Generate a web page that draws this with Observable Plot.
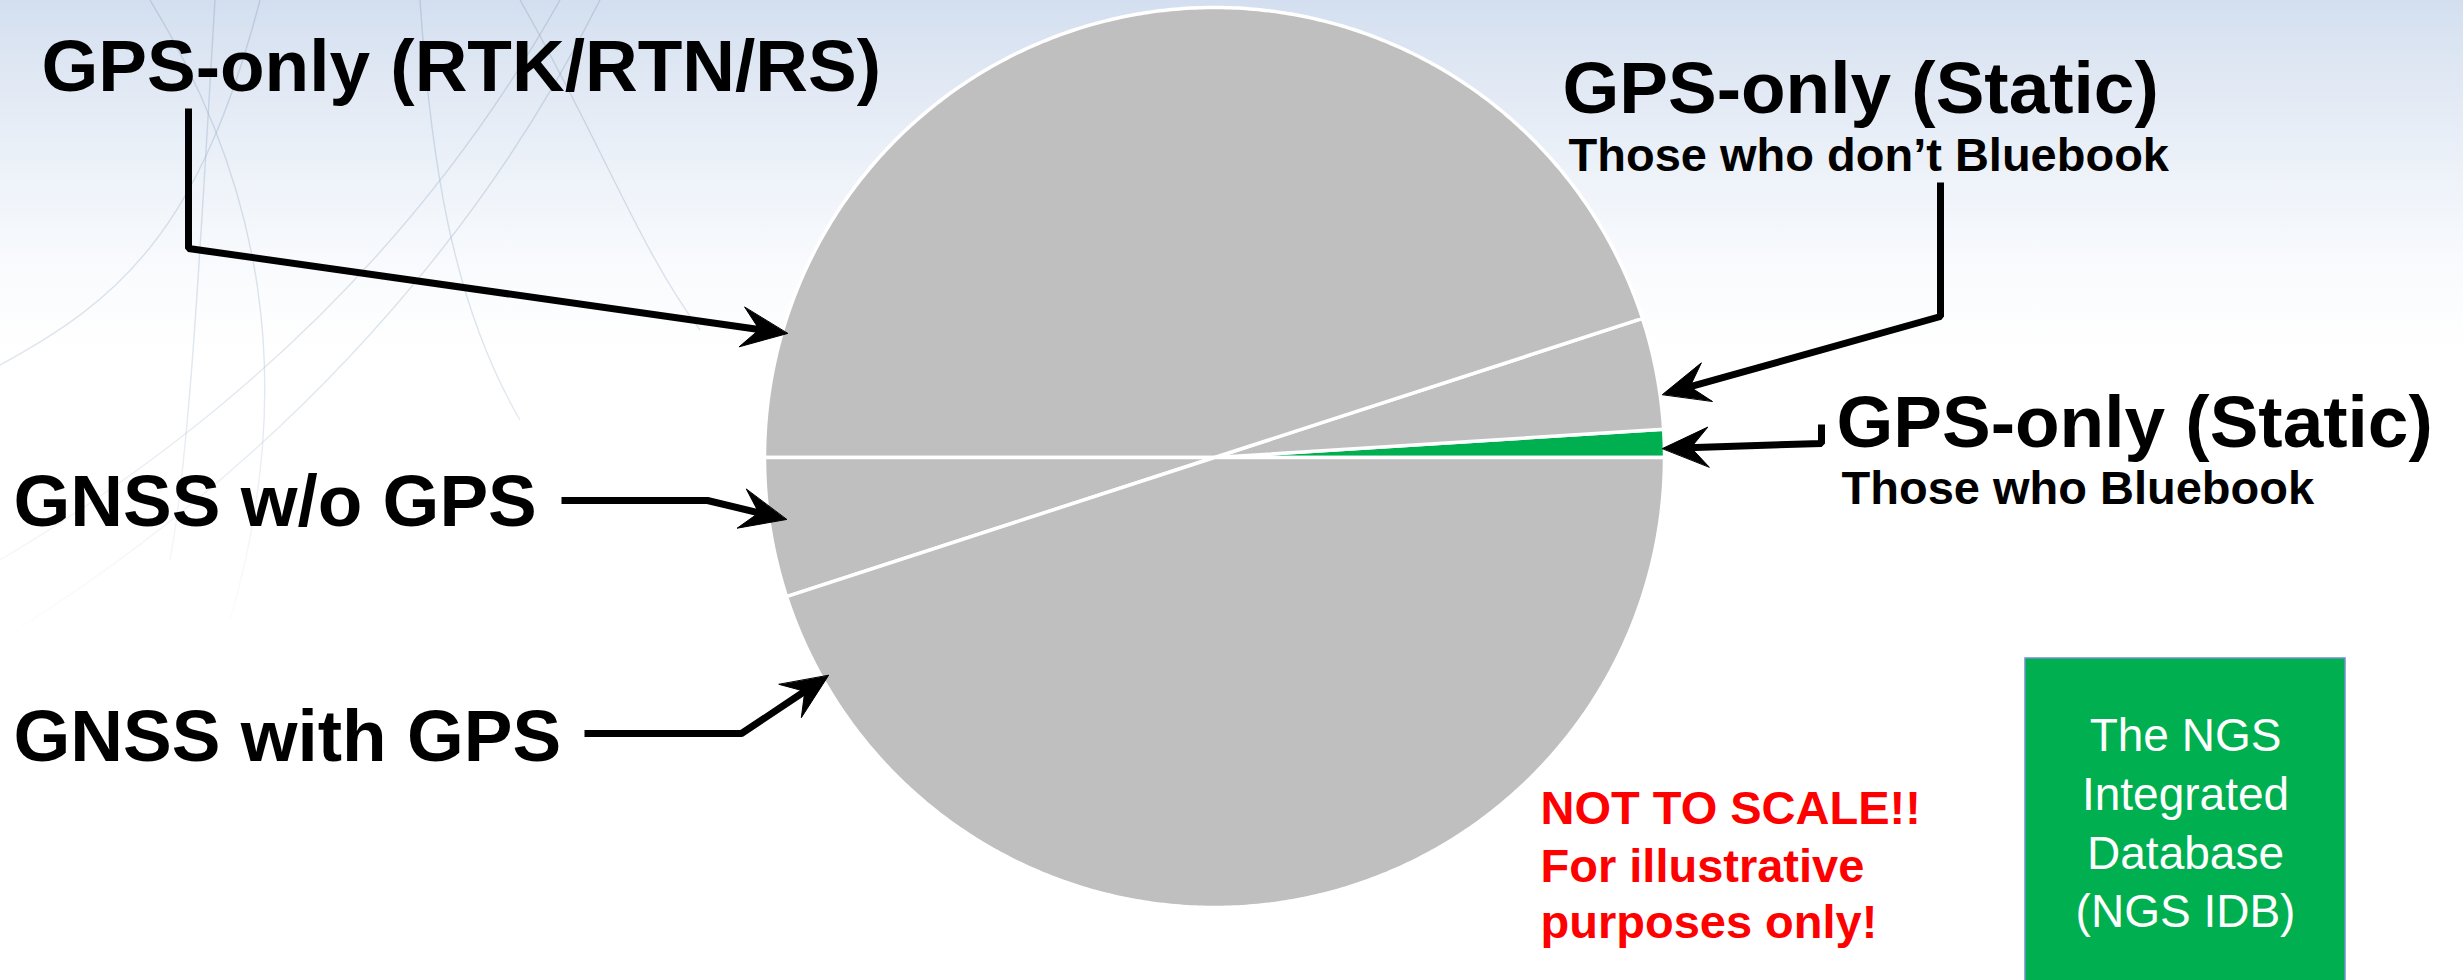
<!DOCTYPE html>
<html>
<head>
<meta charset="utf-8">
<script src="https://cdn.jsdelivr.net/npm/d3@7"></script>
<script src="https://cdn.jsdelivr.net/npm/@observablehq/plot@0.6"></script>
<style>
html, body { margin: 0; padding: 0; background: #ffffff; }
#slide {
  position: relative; width: 2463px; height: 980px; overflow: hidden;
  background: linear-gradient(180deg, #d3dff0 0px, #dfe7f3 70px, #edf2f9 170px, #f8fafd 260px, #ffffff 350px);
}
#deco, #chart { position: absolute; left: 0; top: 0; }
</style>
</head>
<body>
<div id="slide">
  <svg id="deco" width="2463" height="980" viewBox="0 0 2463 980">
    <defs>
      <linearGradient id="fade" x1="0" y1="0" x2="0" y2="1" gradientUnits="userSpaceOnUse" gradientTransform="scale(1,650)">
        <stop offset="0" stop-color="#fff" stop-opacity="1"/>
        <stop offset="0.6" stop-color="#fff" stop-opacity="0.7"/>
        <stop offset="1" stop-color="#fff" stop-opacity="0"/>
      </linearGradient>
      <mask id="m" maskUnits="userSpaceOnUse" x="0" y="0" width="2463" height="980">
        <rect x="0" y="0" width="2463" height="650" fill="url(#fade)"/>
      </mask>
    </defs>
    <g fill="none" stroke="#8ea6bf" stroke-opacity="0.38" stroke-width="1.4" mask="url(#m)">
      <path d="M0,365 C120,300 200,230 260,0"/>
      <path d="M0,560 C220,430 420,250 560,0"/>
      <path d="M0,640 C260,480 470,260 600,0"/>
      <path d="M150,0 C260,180 300,380 230,620"/>
      <path d="M215,0 C200,250 190,450 170,560"/>
      <path d="M420,0 C430,150 450,300 520,420"/>
      <path d="M520,0 C600,140 640,250 700,330"/>
    </g>
  </svg>
  <div id="chart"></div>
</div>
<script>
// ---------- data ----------
const segments = [
  "GPS-only (Static) – Those who Bluebook",
  "GPS-only (Static) – Those who don’t Bluebook",
  "GPS-only (RTK/RTN/RS)",
  "GNSS w/o GPS",
  "GNSS with GPS"
];
const shares = [1, 4, 45, 5, 45];            // percent of the pie (illustrative)
const sliceColors = ["#00b050", "#bfbfbf", "#bfbfbf", "#bfbfbf", "#bfbfbf"];

const bigLabels = ["GPS-only (RTK/RTN/RS)", "GPS-only (Static)", "GPS-only (Static)", "GNSS w/o GPS", "GNSS with GPS"];
const subLabels = ["Those who don’t Bluebook", "Those who Bluebook"];
const noteLines = ["NOT TO SCALE!!", "For illustrative", "purposes only!"];
const boxLines = ["The NGS", "Integrated", "Database", "(NGS IDB)"];

// ---------- layout (pixel space) ----------
const W = 2463, H = 980;
const pie = {cx: 1214, cy: 457, r: 450};
const bigPos = [[41, 90], [1562, 112], [1836, 446], [13, 525], [13, 760]];
const subPos = [[1568, 170], [1841, 503]];
const notePos = [[1540, 823], [1540, 881], [1540, 937]];
const boxRect = {x1: 2025, x2: 2345, y1: 658, y2: 1000};
const boxPos = [[2185, 750], [2185, 809], [2185, 868], [2185, 926]];
// leader polylines: last point is the arrow tip
const leaders = [
  [[188, 108], [188, 248], [787, 333]],
  [[1940, 182], [1940, 316], [1662, 394]],
  [[1821, 424], [1821, 443], [1662, 448]],
  [[561, 500], [707, 500], [786, 519]],
  [[584, 733], [741, 733], [828, 675]]
];
const head = {len: 46, half: 20, notch: 0.62};

// ---------- pie geometry from shares ----------
const total = d3.sum(shares);
let acc = 0;
const slicePts = [];
shares.forEach((v, i) => {
  const a0 = acc / total * 360, a1 = (acc + v) / total * 360;
  acc += v;
  slicePts.push({id: i, x: pie.cx, y: pie.cy, color: sliceColors[i]});
  const n = Math.max(2, Math.ceil((a1 - a0) * 2));
  for (let k = 0; k <= n; k++) {
    const a = (a0 + (a1 - a0) * k / n) * Math.PI / 180;
    slicePts.push({id: i, x: pie.cx + pie.r * Math.cos(a), y: pie.cy - pie.r * Math.sin(a), color: sliceColors[i]});
  }
});

// ---------- leader lines & heads ----------
const linePts = [], headPts = [];
leaders.forEach((pts, i) => {
  const [px, py] = pts[pts.length - 2];
  const [tx, ty] = pts[pts.length - 1];
  const L = Math.hypot(tx - px, ty - py);
  const dx = (tx - px) / L, dy = (ty - py) / L;
  const nx = -dy, ny = dx;
  pts.slice(0, -1).forEach(([x, y]) => linePts.push({id: i, x, y}));
  const sx = tx - dx * head.len * 0.55, sy = ty - dy * head.len * 0.55;
  linePts.push({id: i, x: sx, y: sy});
  const bx = tx - dx * head.len, by = ty - dy * head.len;
  const mx = tx - dx * head.len * head.notch, my = ty - dy * head.len * head.notch;
  headPts.push({id: i, x: tx, y: ty});
  headPts.push({id: i, x: bx + nx * head.half, y: by + ny * head.half});
  headPts.push({id: i, x: mx, y: my});
  headPts.push({id: i, x: bx - nx * head.half, y: by - ny * head.half});
});

const bigData = bigLabels.map((t, i) => ({t, x: bigPos[i][0], y: bigPos[i][1]}));
const subData = subLabels.map((t, i) => ({t, x: subPos[i][0], y: subPos[i][1]}));
const noteData = noteLines.map((t, i) => ({t, x: notePos[i][0], y: notePos[i][1]}));
const boxData = boxLines.map((t, i) => ({t, x: boxPos[i][0], y: boxPos[i][1]}));

const font = "'Liberation Sans', Arial, Helvetica, sans-serif";

const chart = Plot.plot({
  width: W,
  height: H,
  margin: 0,
  style: {background: "transparent", overflow: "visible"},
  x: {domain: [0, W], range: [0, W], axis: null},
  y: {domain: [0, H], range: [0, H], axis: null},
  color: {type: "identity"},
  marks: [
    Plot.line(slicePts, {x: "x", y: "y", z: "id", fill: "color", stroke: "#ffffff", strokeWidth: 3.5, strokeLinejoin: "round", curve: "linear-closed"}),
    Plot.line(linePts, {x: "x", y: "y", z: "id", stroke: "#000000", strokeWidth: 7, strokeLinejoin: "miter", strokeLinecap: "butt"}),
    Plot.line(headPts, {x: "x", y: "y", z: "id", fill: "#000000", stroke: "#000000", strokeWidth: 1, curve: "linear-closed"}),
    Plot.text(bigData, {x: "x", y: "y", text: "t", textAnchor: "start", lineAnchor: "bottom", fontSize: 73, fontWeight: "bold", fontFamily: font, fill: "#000000"}),
    Plot.text(subData, {x: "x", y: "y", text: "t", textAnchor: "start", lineAnchor: "bottom", fontSize: 47, fontWeight: "bold", fontFamily: font, fill: "#000000"}),
    Plot.text(noteData, {x: "x", y: "y", text: "t", textAnchor: "start", lineAnchor: "bottom", fontSize: 47, fontWeight: "bold", fontFamily: font, fill: "#ff0000"}),
    Plot.rect([boxRect], {x1: "x1", x2: "x2", y1: "y1", y2: "y2", fill: "#00b050", stroke: "#6f8fd0", strokeWidth: 1.5}),
    Plot.text(boxData, {x: "x", y: "y", text: "t", textAnchor: "middle", lineAnchor: "bottom", fontSize: 46, fontWeight: "normal", fontFamily: font, fill: "#ffffff"})
  ]
});
document.getElementById("chart").appendChild(chart);
</script>
</body>
</html>
